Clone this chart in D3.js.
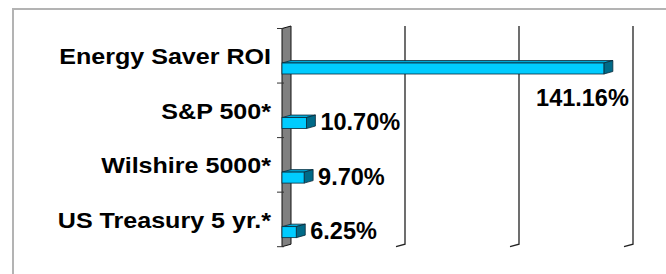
<!DOCTYPE html>
<html>
<head>
<meta charset="utf-8">
<script src="https://cdn.jsdelivr.net/npm/d3@7.9.0/dist/d3.min.js"></script>
<style>
  html, body { margin: 0; padding: 0; background: #fff; }
  svg { display: block; }
  text { font-family: "Liberation Sans", Arial, sans-serif; font-weight: bold; fill: #000; }
</style>
</head>
<body>
<svg id="chart" width="666" height="274"></svg>
<script>
// chart data
const categories = ["Energy Saver ROI", "S&P 500*", "Wilshire 5000*", "US Treasury 5 yr.*"];
const values = [141.16, 10.70, 9.70, 6.25];
const valueLabels = ["141.16%", "10.70%", "9.70%", "6.25%"];
const xTicks = [50, 100, 150];

const svg = d3.select('#chart');

// 3D depth offset of the back wall
const dx = 9, dy = -2.5;
const x0 = 282, plotTop = 28.5, plotBottom = 246.7;

const x = d3.scaleLinear().domain([0, 150]).range([x0, x0 + 342]);
const y = d3.scaleBand().domain(categories).range([plotTop, plotBottom]).padding(0);

// outer frame
svg.append('rect')
    .attr('x', 13).attr('y', 9)
    .attr('width', 680).attr('height', 300)
    .attr('fill', 'none')
    .attr('stroke', '#b3b3b3')
    .attr('stroke-width', 2);

// gridlines on the back wall, with a short floor segment
xTicks.forEach((t) => {
    const xb = x(t) + dx;
    svg.append('path')
        .attr('d', `M${xb},${plotTop + dy}L${xb},${plotBottom + dy}L${x(t)},${plotBottom}`)
        .attr('fill', 'none')
        .attr('stroke', '#222')
        .attr('stroke-width', 1.3);
});

// left side wall
svg.append('path')
    .attr('d', `M${x0},${plotTop}L${x0 + dx},${plotTop + dy}L${x0 + dx},${plotBottom + dy}L${x0},${plotBottom}Z`)
    .attr('fill', '#808080')
    .attr('stroke', '#111')
    .attr('stroke-width', 1);

// category ticks
const tickYs = categories.map((c) => y(c)).concat([plotBottom]);
tickYs.forEach((ty) => {
    svg.append('line')
        .attr('x1', x0 - 5).attr('x2', x0 + 2)
        .attr('y1', ty).attr('y2', ty)
        .attr('stroke', '#333')
        .attr('stroke-width', 1);
});

// category labels (a little wider than plain Arial, like the original)
svg.selectAll('.cat')
    .data(categories)
    .join('text')
    .attr('class', 'cat')
    .attr('transform', (d) => `translate(271,${y(d) + y.bandwidth() / 2 + 8.3}) scale(1.14,1)`)
    .attr('text-anchor', 'end')
    .attr('font-size', 22)
    .text((d) => d);

// 3D bars
const barOff = 34.5, barH = 11;
categories.forEach((c, i) => {
    const y1 = y(c) + barOff;
    const y2 = y1 + barH;
    const xe = x(values[i]);
    const g = svg.append('g');
    // top face
    g.append('path')
        .attr('d', `M${x0},${y1}L${x0 + dx},${y1 + dy}L${xe + dx},${y1 + dy}L${xe},${y1}Z`)
        .attr('fill', '#00a8d6').attr('stroke', '#0a2a3a').attr('stroke-width', 0.8);
    // side face
    g.append('path')
        .attr('d', `M${xe},${y1}L${xe + dx},${y1 + dy}L${xe + dx},${y2 + dy}L${xe},${y2}Z`)
        .attr('fill', '#006a88').attr('stroke', '#0a2a3a').attr('stroke-width', 0.8);
    // front face
    g.append('rect')
        .attr('x', x0).attr('y', y1)
        .attr('width', xe - x0).attr('height', barH)
        .attr('fill', '#00ccff').attr('stroke', '#0a2a3a').attr('stroke-width', 0.8);

    // value label: right of the bar, or below it if it would overflow
    const lbl = svg.append('text')
        .attr('font-size', 23.5)
        .text(valueLabels[i]);
    const w = lbl.node().getComputedTextLength();
    if (xe + dx + 6 + w > x(150) + dx) {
        lbl.attr('x', xe + 25).attr('y', y2 + 31.5).attr('text-anchor', 'end');
    } else {
        lbl.attr('x', xe + dx + 5).attr('y', y2 + 1.5);
    }
});
</script>
</body>
</html>
